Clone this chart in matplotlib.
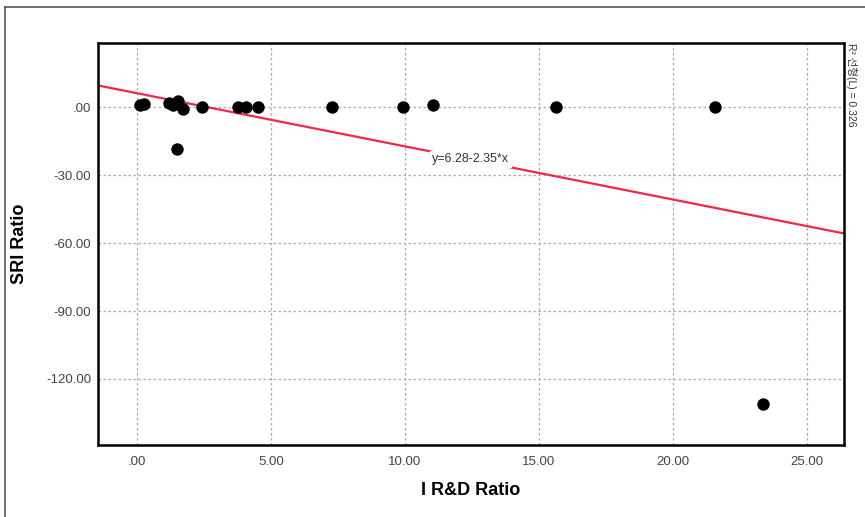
import matplotlib
matplotlib.use("Agg")
import matplotlib.pyplot as plt
from matplotlib.lines import Line2D

# Data
rd_ratio = [0.11, 0.27, 1.19, 1.34, 1.54, 1.71, 1.48, 2.41, 3.78, 4.07, 4.53,
            7.26, 9.94, 11.03, 15.63, 21.57, 23.37]
sri_ratio = [1.1, 1.5, 1.9, 1.1, 3.0, -0.7, -18.5, 0.0, 0.0, 0.0, 0.0,
             0.0, 0.0, 1.1, 0.0, 0.0, -130.9]

fit_intercept = 6.28
fit_slope = -2.35
r_squared = 0.326

x_ticks = [0, 5, 10, 15, 20, 25]
x_tick_labels = [".00", "5.00", "10.00", "15.00", "20.00", "25.00"]
y_ticks = [0, -30, -60, -90, -120]
y_tick_labels = [".00", "-30.00", "-60.00", "-90.00", "-120.00"]

plt.rcParams['font.family'] = ['Liberation Sans', 'Noto Sans CJK KR', 'DejaVu Sans']

fig = plt.figure(figsize=(8.65, 5.17), dpi=100)
ax = fig.add_axes([0.1133, 0.1393, 0.8624, 0.7781])

xmin, xmax = -1.455, 26.38
ax.set_xlim(xmin, xmax)
ax.set_ylim(-149.2, 28.6)

# Grid
ax.grid(True, linestyle=(0, (2, 2)), color="#aaaaaa", linewidth=0.9)
ax.set_axisbelow(True)

# Fit line with label sitting on top of it
ax.plot([xmin, xmax], [fit_intercept + fit_slope * xmin, fit_intercept + fit_slope * xmax],
        color="#f0284a", linewidth=1.6, zorder=2)
tx = 12.46
ax.text(tx, fit_intercept + fit_slope * tx, "y=6.28-2.35*x", fontsize=9, color="#333333",
        ha="center", va="center", zorder=3,
        bbox=dict(facecolor="white", edgecolor="none", pad=1.5))

# Points
ax.scatter(rd_ratio, sri_ratio, s=80, color="black", zorder=4, linewidths=0)

ax.set_xticks(x_ticks)
ax.set_xticklabels(x_tick_labels)
ax.set_yticks(y_ticks)
ax.set_yticklabels(y_tick_labels)
ax.tick_params(axis="x", length=0, labelsize=9.5, labelcolor="#444444", pad=8)
ax.tick_params(axis="y", length=0, labelsize=9.5, labelcolor="#444444", pad=5)

for sp in ax.spines.values():
    sp.set_linewidth(1.8)
    sp.set_color("black")

ax.set_xlabel("I R&D Ratio", fontsize=13, fontweight="bold")
ax.set_ylabel("SRI Ratio", fontsize=13, fontweight="bold")
ax.xaxis.set_label_coords(0.5, -0.092)
ax.yaxis.set_label_coords(-0.094, 0.5)

# R squared note on the right side
fig.text(0.984, 0.917, "R² 선형(L) = %.3f" % r_squared, rotation=-90, fontsize=7.5,
         color="#333333", ha="center", va="top")

# Outer frame (top and left edges visible)
fig.add_artist(Line2D([0.006, 0.006], [0.0, 0.987], transform=fig.transFigure,
                      color="#555555", linewidth=1.2))
fig.add_artist(Line2D([0.006, 1.0], [0.987, 0.987], transform=fig.transFigure,
                      color="#555555", linewidth=1.2))

fig.savefig("out.png", dpi=100)
